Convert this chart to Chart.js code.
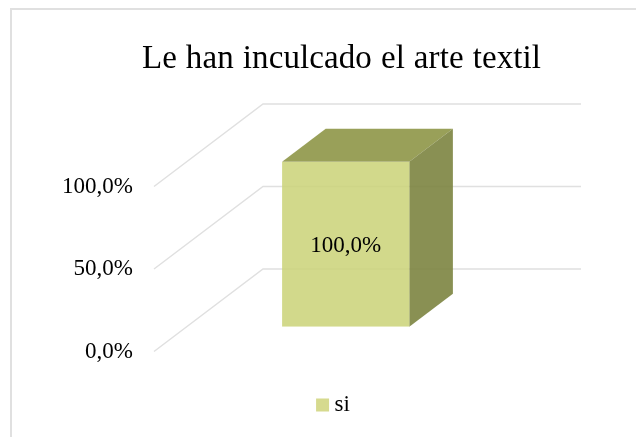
<!DOCTYPE html>
<html><head><meta charset="utf-8">
<style>
html,body{margin:0;padding:0;background:#fff;width:636px;height:437px;overflow:hidden}
#frame{position:absolute;left:10px;top:8px;width:700px;height:500px;border:2px solid #e0e0e0;box-sizing:border-box}
#wrap{position:absolute;left:0;top:0;width:636px;height:437px}
</style>
<script src="https://cdn.jsdelivr.net/npm/chart.js@4"></script>
</head><body>
<div id="frame"></div>
<div id="wrap"><canvas id="c" width="636" height="437"></canvas></div>
<script>
const chartTitle = 'Le han inculcado el arte textil';
const categories = ['Total'];
const seriesName = 'si';
const seriesValues = [100];
const tickValues = [0, 50, 100];

const SERIF = '"Liberation Serif", "Times New Roman", serif';
const depth = {x: 109, y: -82.5};
const barInset = {start: 0.3, end: 0.7};
const fmt = v => v.toFixed(1).replace('.', ',') + '%';

const threeD = {
  id: 'threeD',
  afterLayout(chart) {
    const shift = (box, dx) => { box.left += dx; box.right += dx; };
    const tb = chart.titleBlock;
    shift(tb, 341.5 - (tb.left + tb.right) / 2);
    shift(chart.legend, 336 - (chart.legend.left + chart.legend.right) / 2);
    chart.legend.top -= 6;
    chart.legend.bottom -= 6;
    if (!tb._spaced) {
      tb._spaced = true;
      const draw = tb.draw.bind(tb);
      tb.draw = () => {
        const c = tb.ctx;
        c.save();
        c.letterSpacing = '0.1px';
        c.wordSpacing = '0.6px';
        draw();
        c.restore();
      };
    }
  },
  beforeDatasetsDraw(chart) {
    const {ctx, scales: {y}, chartArea: a} = chart;
    ctx.save();
    ctx.strokeStyle = '#e0e0e0';
    ctx.lineWidth = 1.5;
    tickValues.forEach(v => {
      const py = y.getPixelForValue(v);
      ctx.beginPath();
      ctx.moveTo(a.left, py);
      ctx.lineTo(a.left + depth.x, py + depth.y);
      ctx.lineTo(a.right + depth.x, py + depth.y);
      ctx.stroke();
    });
    ctx.restore();

    const bar = chart.getDatasetMeta(0).data[0];
    const ox = depth.x * barInset.start, oy = depth.y * barInset.start;
    const dx = depth.x * (barInset.end - barInset.start), dy = depth.y * (barInset.end - barInset.start);
    const l = bar.x - bar.width / 2 + ox, r = bar.x + bar.width / 2 + ox;
    const t = bar.y + oy, b = bar.base + oy;
    const poly = (pts, col) => {
      ctx.fillStyle = col;
      ctx.beginPath();
      pts.forEach((p, i) => i ? ctx.lineTo(p[0], p[1]) : ctx.moveTo(p[0], p[1]));
      ctx.closePath();
      ctx.fill();
    };
    ctx.save();
    poly([[l, t], [l + dx, t + dy], [r + dx, t + dy], [r, t]], 'rgba(138,146,64,0.87)');
    poly([[r, t], [r + dx, t + dy], [r + dx, b + dy], [r, b]], 'rgba(122,130,62,0.89)');
    ctx.restore();
    ctx.save();
    ctx.translate(ox, oy);
  },
  afterDatasetsDraw(chart) {
    const {ctx} = chart;
    ctx.restore();
    const bar = chart.getDatasetMeta(0).data[0];
    const ox = depth.x * barInset.start, oy = depth.y * barInset.start;
    ctx.save();
    ctx.fillStyle = '#000';
    ctx.font = '23px ' + SERIF;
    ctx.textAlign = 'center';
    ctx.textBaseline = 'middle';
    ctx.fillText(fmt(seriesValues[0]), bar.x + ox, (bar.y + bar.base) / 2 + oy + 2);
    ctx.restore();
  }
};

new Chart(document.getElementById('c'), {
  type: 'bar',
  data: {
    labels: categories,
    datasets: [{
      label: seriesName,
      data: seriesValues,
      backgroundColor: 'rgba(203,211,122,0.87)',
      borderWidth: 0,
      barPercentage: 0.4,
      categoryPercentage: 1
    }]
  },
  options: {
    responsive: false,
    animation: false,
    layout: {padding: {left: 0, right: 164, top: 0, bottom: 4.5}},
    plugins: {
      tooltip: {enabled: false},
      title: {
        display: true,
        text: chartTitle,
        color: '#000',
        font: {family: SERIF, size: 33, weight: 'normal', lineHeight: 1.2},
        padding: {top: 39.1, bottom: 107.8}
      },
      legend: {
        position: 'bottom',
        labels: {
          boxWidth: 1, boxHeight: 1,
          color: '#000',
          padding: 40,
          font: {family: SERIF, size: 23},
          generateLabels: () => [{
            text: seriesName,
            fillStyle: '#d6da8e',
            strokeStyle: '#d6da8e',
            lineWidth: 12,
            fontColor: '#000',
            datasetIndex: 0
          }]
        }
      }
    },
    scales: {
      x: {display: true, grid: {display: false}, border: {display: false}, ticks: {display: false}},
      y: {
        min: 0, max: 100,
        afterFit(s) { s.width = 154; },
        grid: {display: false},
        border: {display: false},
        afterBuildTicks(s) { s.ticks = tickValues.map(v => ({value: v})); },
        ticks: {
          color: '#000',
          padding: 13,
          font: {family: SERIF, size: 23},
          callback: v => fmt(v)
        }
      }
    }
  },
  plugins: [threeD]
});
</script>
</body></html>
